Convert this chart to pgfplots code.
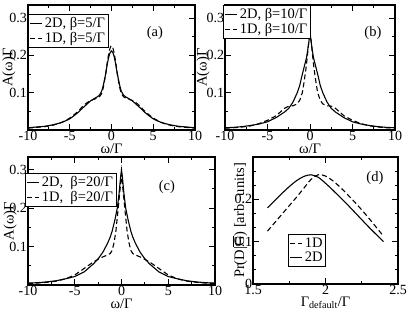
\documentclass[border=0pt]{standalone}
\usepackage{fontspec}
\setmainfont{Liberation Serif}
\usepackage{pgfplots}
\pgfplotsset{compat=1.18}
\pgfplotsset{
  panel/.style={
    scale only axis,
    anchor=south west,
    tick align=inside,
    no markers,
    major tick length=6pt, minor tick length=3pt,
    axis line style={line width=1.1pt},
    every tick/.style={line width=0.9pt, black},
    /pgf/number format/assume math mode=true,
    tick label style={font=\fontsize{14}{14}\selectfont},
    xticklabel style={inner sep=1pt},
    yticklabel style={inner sep=0.8pt},
    label style={font=\fontsize{14.5}{14.5}\selectfont},
    legend style={draw=black, line width=1.1pt, fill=white,
      font=\fontsize{14.5}{15}\selectfont, inner sep=1.2pt, row sep=-1pt,
      cells={anchor=west}},
    legend image code/.code={\draw[#1] (0pt,0pt) -- (12pt,0pt);},
  },
  solidc/.style={black, line width=1.1pt},
  dashc/.style={black, line width=1.1pt, dash pattern=on 5pt off 3pt},
}
\begin{document}
\begin{tikzpicture}
\useasboundingbox (0,0) rectangle (407pt,-315pt);
% (a)
\begin{axis}[panel, at={(28pt,-130pt)}, width=167pt, height=125pt,
  xmin=-10, xmax=10, ymin=0, ymax=0.335,
  xtick={-10,-5,0,5,10}, minor xtick={-7.5,-2.5,2.5,7.5},
  ytick={0.1,0.2,0.3}, minor ytick={0.05,0.15,0.25},
  xlabel={ω/Γ}, ylabel={A(ω)Γ},
  xlabel style={at={(axis description cs:0.5,-0.15)}, anchor=center},
  ylabel style={at={(axis description cs:-0.114,0.5)}, anchor=center},
  legend style={at={(axis description cs:0,0.928)}, anchor=north west}]
\addplot[solidc, smooth, tension=0.35] coordinates {
(-10,0.006) (-9,0.008) (-8,0.010) (-7,0.014) (-6,0.020) (-5,0.030) (-4,0.047) (-3.5,0.058) (-3,0.068) (-2.5,0.078) (-2,0.085) (-1.5,0.092) (-1.2,0.103) (-1,0.118) (-0.7,0.150) (-0.5,0.177) (-0.3,0.198) (-0.15,0.208) (0,0.212)
(0.15,0.208) (0.3,0.198) (0.5,0.177) (0.7,0.150) (1,0.118) (1.2,0.103) (1.5,0.092) (2,0.085) (2.5,0.078) (3,0.068) (3.5,0.058) (4,0.047) (5,0.030) (6,0.020) (7,0.014) (8,0.010) (9,0.008) (10,0.006)};
\addplot[dashc, smooth, tension=0.35] coordinates {
(-10,0.005) (-9,0.007) (-8,0.009) (-7,0.013) (-6,0.020) (-5,0.032) (-4,0.050) (-3.5,0.062) (-3,0.072) (-2.5,0.079) (-2,0.083) (-1.5,0.088) (-1.2,0.097) (-1,0.112) (-0.7,0.150) (-0.5,0.182) (-0.3,0.208) (-0.15,0.221) (0,0.226)
(0.15,0.221) (0.3,0.208) (0.5,0.182) (0.7,0.150) (1,0.112) (1.2,0.097) (1.5,0.088) (2,0.083) (2.5,0.079) (3,0.072) (3.5,0.062) (4,0.050) (5,0.032) (6,0.020) (7,0.013) (8,0.009) (9,0.007) (10,0.005)};
\legend{{2D, β=5/Γ}, {1D, β=5/Γ}}
\node[font=\fontsize{14.5}{14.5}\selectfont] at (rel axis cs:0.76,0.776) {(a)};
\end{axis}
% (b)
\begin{axis}[panel, at={(225pt,-130pt)}, width=170pt, height=125pt,
  xmin=-10, xmax=10, ymin=0, ymax=0.335,
  xtick={-10,-5,0,5,10}, minor xtick={-7.5,-2.5,2.5,7.5},
  ytick={0.1,0.2,0.3}, minor ytick={0.05,0.15,0.25},
  xlabel={ω/Γ}, ylabel={A(ω)Γ},
  xlabel style={at={(axis description cs:0.5,-0.15)}, anchor=center},
  ylabel style={at={(axis description cs:-0.129,0.5)}, anchor=center},
  legend style={at={(axis description cs:-0.012,1)}, anchor=north west}]
\addplot[solidc] coordinates {
(-10,0.006) (-9,0.007) (-8,0.009) (-7,0.012) (-6,0.016) (-5,0.022) (-4,0.033) (-3,0.048) (-2.5,0.058) (-2,0.075) (-1.5,0.100) (-1.2,0.120) (-1,0.140) (-0.7,0.168) (-0.4,0.195) (-0.2,0.225) (0,0.260)
(0.2,0.225) (0.4,0.195) (0.7,0.168) (1,0.140) (1.2,0.120) (1.5,0.100) (2,0.075) (2.5,0.058) (3,0.048) (4,0.033) (5,0.022) (6,0.016) (7,0.012) (8,0.009) (9,0.007) (10,0.006)};
\addplot[dashc] coordinates {
(-10,0.005) (-9,0.006) (-8,0.008) (-7,0.011) (-6,0.017) (-5,0.026) (-4,0.038) (-3.5,0.048) (-3,0.058) (-2.5,0.064) (-2,0.065) (-1.5,0.070) (-1.2,0.080) (-0.9,0.100) (-0.7,0.128) (-0.5,0.160) (-0.3,0.200) (-0.15,0.235) (0,0.265)
(0.15,0.235) (0.3,0.200) (0.5,0.160) (0.7,0.128) (0.9,0.100) (1.2,0.080) (1.5,0.070) (2,0.065) (2.5,0.064) (3,0.058) (3.5,0.048) (4,0.038) (5,0.026) (6,0.017) (7,0.011) (8,0.008) (9,0.006) (10,0.005)};
\legend{{2D, β=10/Γ}, {1D, β=10/Γ}}
\node[font=\fontsize{14.5}{14.5}\selectfont] at (rel axis cs:0.87,0.776) {(b)};
\end{axis}
% (c)
\begin{axis}[panel, at={(28pt,-285pt)}, width=187pt, height=128pt,
  xmin=-10, xmax=10, ymin=0, ymax=0.333,
  xtick={-10,-5,0,5,10}, minor xtick={-7.5,-2.5,2.5,7.5},
  ytick={0.1,0.2,0.3}, minor ytick={0.05,0.15,0.25},
  xlabel={ω/Γ}, ylabel={A(ω)Γ},
  xlabel style={at={(axis description cs:0.5,-0.148)}, anchor=center},
  ylabel style={at={(axis description cs:-0.096,0.5)}, anchor=center},
  legend style={at={(axis description cs:-0.016,0.875)}, anchor=north west}]
\addplot[solidc] coordinates {
(-10,0.005) (-9,0.006) (-8,0.008) (-7,0.011) (-6,0.016) (-5,0.022) (-4,0.034) (-3,0.055) (-2.5,0.068) (-2,0.085) (-1.5,0.108) (-1.2,0.125) (-1,0.140) (-0.7,0.170) (-0.45,0.200) (-0.25,0.240) (-0.1,0.280) (0,0.300)
(0.1,0.280) (0.25,0.240) (0.45,0.200) (0.7,0.170) (1,0.140) (1.2,0.125) (1.5,0.108) (2,0.085) (2.5,0.068) (3,0.055) (4,0.034) (5,0.022) (6,0.016) (7,0.011) (8,0.008) (9,0.006) (10,0.005)};
\addplot[dashc] coordinates {
(-10,0.004) (-9,0.005) (-8,0.007) (-7,0.010) (-6,0.016) (-5,0.026) (-4,0.043) (-3,0.060) (-2.5,0.067) (-2,0.073) (-1.5,0.078) (-1.2,0.082) (-1,0.090) (-0.8,0.110) (-0.6,0.140) (-0.35,0.200) (-0.15,0.250) (0,0.290)
(0.15,0.250) (0.35,0.200) (0.6,0.140) (0.8,0.110) (1,0.090) (1.2,0.082) (1.5,0.078) (2,0.073) (2.5,0.067) (3,0.060) (4,0.043) (5,0.026) (6,0.016) (7,0.010) (8,0.007) (9,0.005) (10,0.004)};
\legend{{2D,\ \ β=20/Γ}, {1D,\ \ β=20/Γ}}
\node[font=\fontsize{14.5}{14.5}\selectfont] at (rel axis cs:0.743,0.766) {(c)};
\end{axis}
% (d)
\begin{axis}[panel, at={(253pt,-284pt)}, width=145pt, height=127pt,
  xmin=1.5, xmax=2.5, ymin=0, ymax=0.3,
  xtick={1.5,2,2.5}, minor xtick={1.75,2.25},
  ytick={0,0.1,0.2}, minor ytick={0.0333,0.0667,0.1333,0.1667,0.2333,0.2667},
  xlabel={Γ\textsubscript{default}/Γ}, ylabel={Pr(D|$\overline{\hbox{G}}$) [arb. units]},
  xlabel style={at={(axis description cs:0.5,-0.15)}, anchor=center},
  ylabel style={at={(axis description cs:-0.09,0.5)}, anchor=center},
  legend style={at={(axis description cs:0.241,0.394)}, anchor=north west}]
\addplot[dashc, smooth] coordinates {
(1.6,0.125) (1.65,0.145) (1.7,0.165) (1.75,0.185) (1.8,0.205) (1.85,0.226) (1.9,0.247) (1.95,0.258) (2.0,0.255) (2.05,0.244) (2.1,0.229) (2.15,0.212) (2.2,0.194) (2.25,0.175) (2.3,0.155) (2.35,0.134) (2.4,0.113)};
\addplot[solidc, smooth] coordinates {
(1.6,0.180) (1.65,0.197) (1.7,0.214) (1.75,0.230) (1.8,0.244) (1.85,0.254) (1.9,0.258) (1.95,0.252) (2.0,0.238) (2.05,0.222) (2.1,0.205) (2.15,0.188) (2.2,0.170) (2.25,0.152) (2.3,0.134) (2.35,0.117) (2.4,0.100)};
\legend{1D, 2D}
\node[font=\fontsize{14.5}{14.5}\selectfont] at (rel axis cs:0.841,0.835) {(d)};
\end{axis}
\end{tikzpicture}
\end{document}
